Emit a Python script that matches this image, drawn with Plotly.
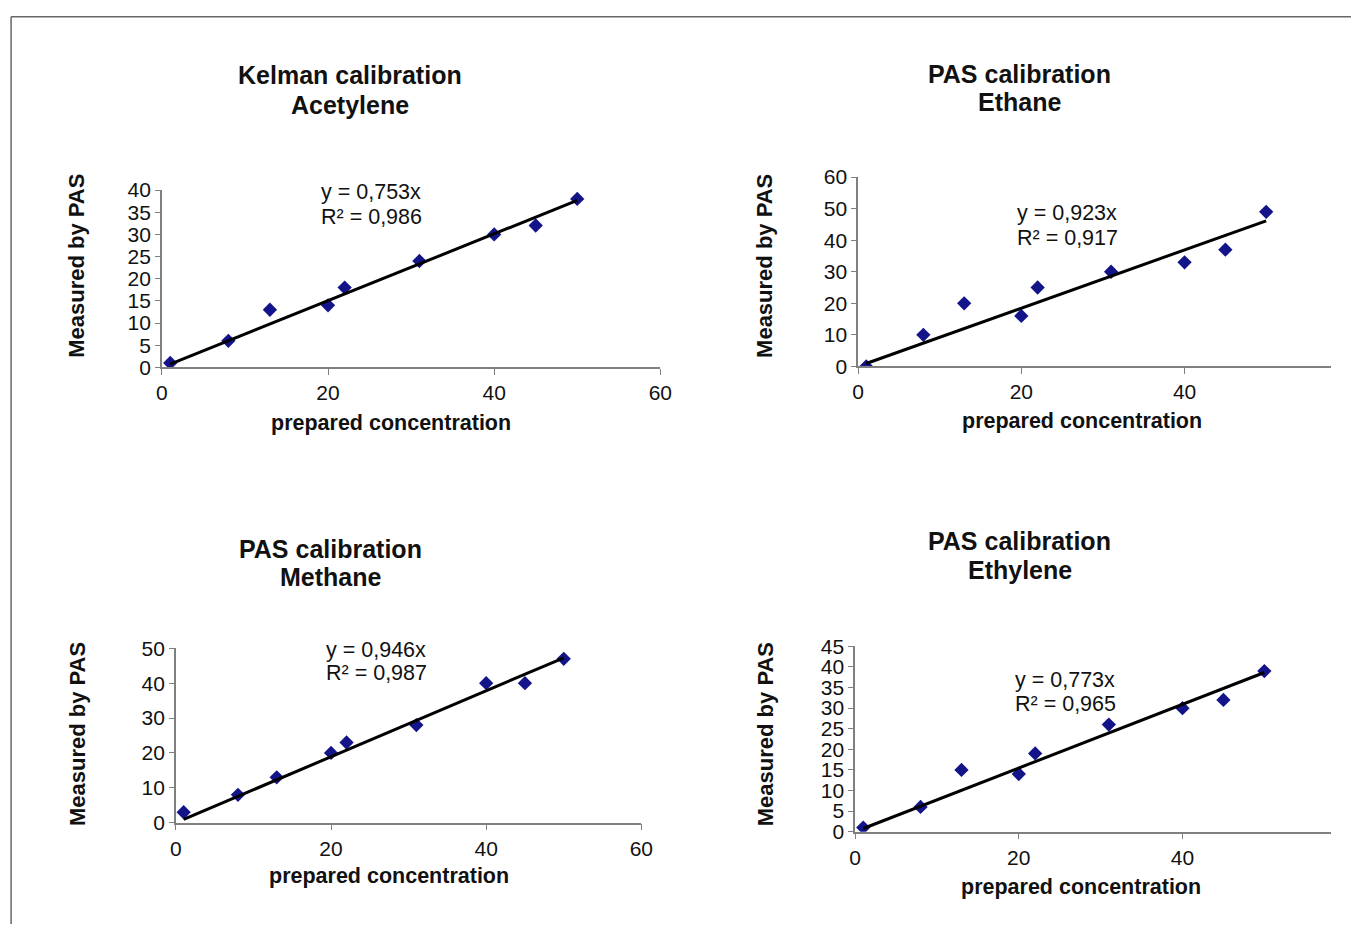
import plotly.graph_objects as go

W, H = 1363, 935

# ---- data ----
prepared = [1, 8, 13, 20, 22, 31, 40, 45, 50]
acetylene = [1, 6, 13, 14, 18, 24, 30, 32, 38]
ethane = [0, 10, 20, 16, 25, 30, 33, 37, 49]
methane = [3, 8, 13, 20, 23, 28, 40, 40, 47]
ethylene = [1, 6, 15, 14, 19, 26, 30, 32, 39]

title_line1 = ["Kelman calibration", "PAS calibration", "PAS calibration", "PAS calibration"]
title_line2 = ["Acetylene", "Ethane", "Methane", "Ethylene"]
slopes = [0.753, 0.923, 0.946, 0.773]
r2 = [0.986, 0.917, 0.987, 0.965]
series = [acetylene, ethane, methane, ethylene]
x_ranges = [[0, 60], [0, 58], [0, 60], [0, 58.2]]
y_ranges = [[0, 40], [0, 60], [0, 50], [0, 45]]
x_ticks = [[0, 20, 40, 60], [0, 20, 40], [0, 20, 40, 60], [0, 20, 40]]
y_dticks = [5, 10, 10, 5]

# target pixel layout of each panel: (x0, x1, ybottom, ytop)
boxes = [(161, 660, 366, 188), (858, 1332, 365, 175),
         (175, 641, 823, 648), (855, 1332, 832, 646)]
title_pos = [(349, 73, 103), (1020, 72, 100), (330, 548, 576), (1020, 540, 569)]
ytitle_pos = [(76, 264), (765, 264), (76, 734), (765, 734)]
xtitle_pos = [(390, 422), (1082, 420), (388, 876), (1081, 888)]
eq_pos = [(318, 190, 215), (1015, 211, 236), (323, 650, 673), (1013, 680, 704)]

# compensation for the capture's slight rescale
SX, BX, SY, BY = 0.988, 4.9, 0.979, 9.3


def px(x):
    return ((x - BX) / SX) / W


def py(y):
    return 1 - ((y - BY) / SY) / H


fig = go.Figure()
annotations = []
FAM = "Liberation Sans, Arial, sans-serif"
tick_font = dict(family=FAM, size=21, color="#111")
eq_font = dict(family=FAM, size=21.5, color="#111")


def add_text(text, x, y, size, xanchor="center", angle=0):
    annotations.append(dict(text=text, x=px(x), y=py(y), xref="paper", yref="paper",
                            showarrow=False, xanchor=xanchor, yanchor="middle",
                            textangle=angle, font=dict(family=FAM, size=size, color="#111")))


for i in range(4):
    sx = "" if i == 0 else str(i + 1)
    xa, ya = "x" + sx, "y" + sx
    ys = series[i]
    fig.add_trace(go.Scatter(x=prepared, y=ys, mode="markers", xaxis=xa, yaxis=ya,
                             marker=dict(symbol="diamond", size=11, color="#14148a"),
                             showlegend=False))
    fx = [prepared[0], prepared[-1]]
    fig.add_trace(go.Scatter(x=fx, y=[slopes[i] * v for v in fx], mode="lines",
                             xaxis=xa, yaxis=ya, line=dict(color="black", width=3),
                             showlegend=False))
    x0, x1, yb, yt = boxes[i]
    fig.layout["xaxis" + sx] = dict(
        domain=[px(x0), px(x1)], anchor=ya, range=x_ranges[i], tickvals=x_ticks[i],
        showgrid=False, zeroline=False, showline=True, linecolor="#808080", linewidth=1.5,
        ticks="outside", ticklen=6, tickcolor="#808080", tickfont=tick_font)
    fig.layout["yaxis" + sx] = dict(
        domain=[py(yb), py(yt)], anchor=xa, range=y_ranges[i], dtick=y_dticks[i], tick0=0,
        showgrid=False, zeroline=False, showline=True, linecolor="#808080", linewidth=1.5,
        ticks="outside", ticklen=5, tickcolor="#808080", tickfont=tick_font)

    tx, ty1, ty2 = title_pos[i]
    add_text("<b>" + title_line1[i] + "</b>", tx, ty1, 25)
    add_text("<b>" + title_line2[i] + "</b>", tx, ty2, 25)
    ax_, ay_ = ytitle_pos[i]
    add_text("<b>Measured by PAS</b>", ax_, ay_, 22, angle=-90)
    bx, by = xtitle_pos[i]
    add_text("<b>prepared concentration</b>", bx, by, 21.5)
    ex, ey1, ey2 = eq_pos[i]
    add_text("y = {}x".format(f"{slopes[i]:.3f}".replace(".", ",")), ex, ey1, 21.5, xanchor="left")
    add_text("R² = {}".format(f"{r2[i]:.3f}".replace(".", ",")), ex, ey2, 21.5, xanchor="left")

fig.update_layout(
    width=W, height=H, margin=dict(l=0, r=0, t=0, b=0),
    paper_bgcolor="white", plot_bgcolor="white",
    annotations=annotations,
    shapes=[
        dict(type="line", xref="paper", yref="paper", x0=px(10), x1=1, y0=py(14), y1=py(14),
             line=dict(color="#666", width=1.5)),
        dict(type="line", xref="paper", yref="paper", x0=px(10), x1=px(10), y0=py(14), y1=0,
             line=dict(color="#666", width=1.5)),
    ],
)

fig.write_html("out.html", config={"displayModeBar": False},
               post_script="document.body.style.margin='0';document.body.style.overflow='hidden';")
